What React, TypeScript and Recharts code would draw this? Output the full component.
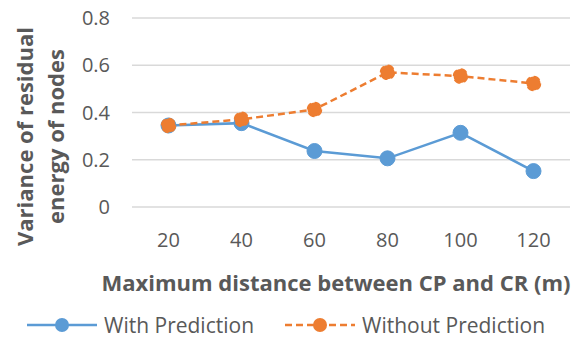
import React from "react";
import {
  LineChart,
  Line,
  XAxis,
  YAxis,
  CartesianGrid,
  Legend,
} from "recharts";

const distances = ["20", "40", "60", "80", "100", "120"];
const withPrediction = [0.345, 0.355, 0.237, 0.206, 0.314, 0.152];
const withoutPrediction = [0.345, 0.371, 0.413, 0.57, 0.554, 0.523];
const yTicks = [0, 0.2, 0.4, 0.6, 0.8];

const data = distances.map((d, i) => ({
  distance: d,
  withPred: withPrediction[i],
  withoutPred: withoutPrediction[i],
}));

const FONT = "'Open Sans', sans-serif";
const GREY = "#595959";
const BLUE = "#5B9BD5";
const ORANGE = "#ED7D31";

const YLabel = (props: any) => {
  const { viewBox } = props;
  const cy = viewBox.y + viewBox.height / 2 + 24;
  return (
    <g>
      <text
        x={24}
        y={cy}
        transform={`rotate(-90, 24, ${cy})`}
        textAnchor="middle"
        dominantBaseline="central"
        fontFamily={FONT}
        fontWeight="bold"
        fontSize={22}
        fill={GREY}
      >
        Variance of residual
      </text>
      <text
        x={55}
        y={cy}
        transform={`rotate(-90, 55, ${cy})`}
        textAnchor="middle"
        dominantBaseline="central"
        fontFamily={FONT}
        fontWeight="bold"
        fontSize={22}
        fill={GREY}
      >
        energy of nodes
      </text>
    </g>
  );
};

const XLabel = () => (
  <text
    x={336}
    y={282}
    textAnchor="middle"
    dominantBaseline="central"
    fontFamily={FONT}
    fontWeight="bold"
    fontSize={22}
    fill={GREY}
  >
    Maximum distance between CP and CR (m)
  </text>
);

const LegendContent = (props: any) => {
  const { payload } = props;
  const starts = [27, 285];
  return (
    <svg width={577} height={28}>
      {payload.map((entry: any, i: number) => {
        const x0 = starts[i];
        const dash = i === 1 ? "7 4" : undefined;
        return (
          <g key={entry.value}>
            <line
              x1={x0}
              x2={x0 + 70}
              y1={14}
              y2={14}
              stroke={entry.color}
              strokeWidth={2.5}
              strokeDasharray={dash}
            />
            <circle cx={x0 + 35} cy={14} r={7} fill={entry.color} />
            <text
              x={x0 + 77}
              y={14}
              dominantBaseline="central"
              fontFamily={FONT}
              fontSize={21}
              fill={GREY}
            >
              {entry.value}
            </text>
          </g>
        );
      })}
    </svg>
  );
};

const App = () => {
  return (
    <div style={{ position: "absolute", left: 0, top: 0, background: "#fff" }}>
      <LineChart
        width={577}
        height={338}
        data={data}
        margin={{ top: 18, right: 7, left: 0, bottom: 0 }}
      >
        <CartesianGrid vertical={false} stroke="#d9d9d9" strokeWidth={1.5} />
        <XAxis
          dataKey="distance"
          axisLine={false}
          tickLine={false}
          tickSize={0}
          tickMargin={26}
          height={131}
          padding={{ left: 36.5, right: 36.5 }}
          tick={{ fill: GREY, fontSize: 20, fontFamily: FONT }}
          label={<XLabel />}
        />
        <YAxis
          width={132}
          domain={[0, 0.8]}
          ticks={yTicks}
          axisLine={false}
          tickLine={false}
          tickSize={0}
          tickMargin={22}
          tick={{ fill: GREY, fontSize: 20, fontFamily: FONT }}
          label={<YLabel />}
        />
        <Legend
          layout="horizontal"
          verticalAlign="middle"
          align="center"
          wrapperStyle={{ top: 311, left: 0, width: 577 }}
          content={<LegendContent />}
        />
        <Line
          dataKey="withPred"
          name="With Prediction"
          stroke={BLUE}
          strokeWidth={2.5}
          dot={{ r: 7.5, fill: BLUE, stroke: BLUE, strokeWidth: 1 }}
          isAnimationActive={false}
        />
        <Line
          dataKey="withoutPred"
          name="Without Prediction"
          stroke={ORANGE}
          strokeWidth={2.5}
          strokeDasharray="7 4"
          dot={{ r: 7, fill: ORANGE, stroke: ORANGE, strokeWidth: 1.5 }}
          isAnimationActive={false}
        />
      </LineChart>
    </div>
  );
};

export default App;
